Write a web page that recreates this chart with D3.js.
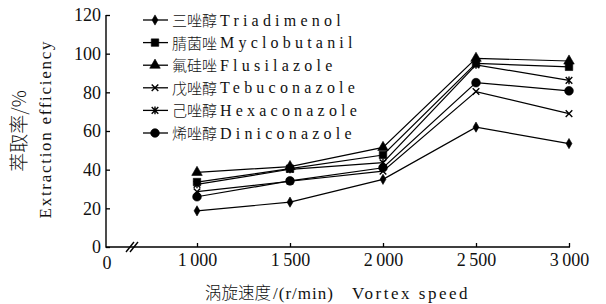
<!DOCTYPE html>
<html>
<head>
<meta charset="utf-8">
<script src="https://cdn.jsdelivr.net/npm/d3@7"></script>
</head>
<body style="margin:0">
<div id="chart"></div>
<script>
// data
var speeds = [1000, 1500, 2000, 2500, 3000];
var xTickLabels = ["1\u2009000", "1\u2009500", "2\u2009000", "2\u2009500", "3\u2009000"];
var yTicks = [0, 20, 40, 60, 80, 100, 120];

var namesCn = ["三唑醇", "腈菌唑", "氟硅唑", "戊唑醇", "己唑醇", "烯唑醇"];
var namesEn = ["Triadimenol", "Myclobutanil", "Flusilazole", "Tebuconazole", "Hexaconazole", "Diniconazole"];

var triadimenol  = [18.7, 23.2, 35.0, 62.0, 53.5];
var myclobutanil = [33.6, 40.5, 47.6, 95.0, 93.2];
var flusilazole  = [38.6, 41.6, 51.5, 97.6, 96.2];
var tebuconazole = [28.6, 34.0, 39.2, 80.4, 69.0];
var hexaconazole = [32.4, 40.2, 43.6, 94.2, 86.2];
var diniconazole = [26.0, 34.2, 41.0, 85.0, 80.8];

var seriesValues = [triadimenol, myclobutanil, flusilazole, tebuconazole, hexaconazole, diniconazole];
var markers = ["diamond", "square", "triangle", "x", "star", "circle"];

var svgWidth = 606, svgHeight = 304;
var axisX = 106, axisY = 247, axisEnd = 570;
var SERIF = "'Liberation Serif'";
var CJK = "'Noto Sans CJK SC'";

var svg = d3.select("#chart").append("svg")
    .attr("width", svgWidth)
    .attr("height", svgHeight);

var xScale = d3.scaleLinear().domain([1000, 3000]).range([197, 569]);
var yScale = d3.scaleLinear().domain([0, 120]).range([axisY, 15]);

// spread letters with a dx list (letter-spacing renders oddly here)
function spaced(sel, str, gap) {
    var dx = str.split("").map(function(c, i) { return i === 0 ? 0 : gap; });
    return sel.attr("dx", dx.join(" ")).text(str);
}

// marker path builder
function markerPath(type) {
    if (type === "diamond") return d3.symbol().type(d3.symbolDiamond).size(30)();
    if (type === "square") return d3.symbol().type(d3.symbolSquare).size(56)();
    if (type === "triangle") return d3.symbol().type(d3.symbolTriangle).size(48)();
    if (type === "circle") return d3.symbol().type(d3.symbolCircle).size(60)();
    var r = 3.3;
    var p = "M" + (-r) + "," + (-r) + "L" + r + "," + r + "M" + (-r) + "," + r + "L" + r + "," + (-r);
    if (type === "star") p += "M0," + (-r - 0.6) + "L0," + (r + 0.6);
    return p;
}
function drawMarker(g, type, x, y) {
    var stroked = (type === "x" || type === "star");
    g.append("path")
        .attr("d", markerPath(type))
        .attr("transform", "translate(" + x + "," + y + ")")
        .attr("fill", stroked ? "none" : "#000")
        .attr("stroke", "#000")
        .attr("stroke-width", stroked ? 1.4 : 0.6);
}

// axes
var yAxis = d3.axisLeft(yScale).tickValues(yTicks).tickSize(-4).tickPadding(5);
var gy = svg.append("g").attr("transform", "translate(" + axisX + ",0)").call(yAxis);
gy.select(".domain").remove();
gy.selectAll(".tick line").attr("stroke", "#000").attr("stroke-width", 1.3);
gy.selectAll("text")
    .style("font-family", SERIF)
    .style("font-size", "18px")
    .attr("fill", "#111");

var xAxis = d3.axisBottom(xScale).tickValues(speeds).tickSize(-4).tickPadding(6)
    .tickFormat(function(d, i) { return xTickLabels[i]; });
var gx = svg.append("g").attr("transform", "translate(0," + axisY + ")").call(xAxis);
gx.select(".domain").remove();
gx.selectAll(".tick line").attr("stroke", "#000").attr("stroke-width", 1.3);
gx.selectAll("text")
    .style("font-family", SERIF)
    .style("font-size", "18px")
    .attr("fill", "#111");

// axis lines
svg.append("path")
    .attr("d", "M" + axisX + "," + yScale(120) + "V" + axisY + "H" + axisEnd)
    .attr("fill", "none")
    .attr("stroke", "#000")
    .attr("stroke-width", 1.4);

// origin label
svg.append("text")
    .attr("x", axisX + 1)
    .attr("y", axisY + 22)
    .attr("text-anchor", "middle")
    .style("font-family", SERIF)
    .style("font-size", "18px")
    .attr("fill", "#111")
    .text("0");

// axis break
[0, 4].forEach(function(dx) {
    svg.append("line")
        .attr("x1", 126 + dx).attr("y1", 252)
        .attr("x2", 134 + dx).attr("y2", 242)
        .attr("stroke", "#000").attr("stroke-width", 1.4);
});

// series lines and markers
var line = d3.line()
    .x(function(d, i) { return xScale(speeds[i]); })
    .y(function(d) { return yScale(d); });

var plot = svg.append("g");
seriesValues.forEach(function(vals) {
    plot.append("path")
        .datum(vals)
        .attr("d", line)
        .attr("fill", "none")
        .attr("stroke", "#000")
        .attr("stroke-width", 1.2);
});
seriesValues.forEach(function(vals, s) {
    vals.forEach(function(v, i) {
        drawMarker(plot, markers[s], xScale(speeds[i]), yScale(v));
    });
});

// legend
var legend = svg.append("g");
namesEn.forEach(function(name, i) {
    var y = 20 + i * 22.6;
    legend.append("line")
        .attr("x1", 143).attr("x2", 168)
        .attr("y1", y).attr("y2", y)
        .attr("stroke", "#000").attr("stroke-width", 1.3);
    drawMarker(legend, markers[i], 155, y);
    legend.append("text")
        .attr("x", 172)
        .attr("y", y + 6)
        .attr("fill", "#111")
        .style("font-family", CJK)
        .style("font-weight", "300")
        .style("font-size", "15px")
        .text(namesCn[i]);
    spaced(legend.append("text")
        .attr("x", 220)
        .attr("y", y + 5.5)
        .attr("fill", "#111")
        .style("font-family", SERIF)
        .style("font-size", "16px"), name, 4.2);
});

// axis titles
svg.append("text")
    .attr("transform", "translate(26,131) rotate(-90)")
    .attr("text-anchor", "middle")
    .attr("fill", "#111")
    .style("font-family", CJK)
    .style("font-weight", "300")
    .style("font-size", "19px")
    .text("萃取率/%");

spaced(svg.append("text")
    .attr("transform", "translate(51,130) rotate(-90)")
    .attr("text-anchor", "middle")
    .attr("fill", "#111")
    .style("font-family", SERIF)
    .style("font-size", "17px"), "Extraction efficiency", 1.7);

svg.append("text")
    .attr("x", 205)
    .attr("y", 299)
    .attr("fill", "#111")
    .style("font-family", CJK)
    .style("font-weight", "300")
    .style("font-size", "16.5px")
    .text("涡旋速度");
spaced(svg.append("text")
    .attr("x", 273)
    .attr("y", 299)
    .attr("fill", "#111")
    .style("font-family", SERIF)
    .style("font-size", "17px"), "/(r/min)", 1);
spaced(svg.append("text")
    .attr("x", 352)
    .attr("y", 299)
    .attr("fill", "#111")
    .style("font-family", SERIF)
    .style("font-size", "17px"), "Vortex speed", 2.5);
</script>
</body>
</html>
